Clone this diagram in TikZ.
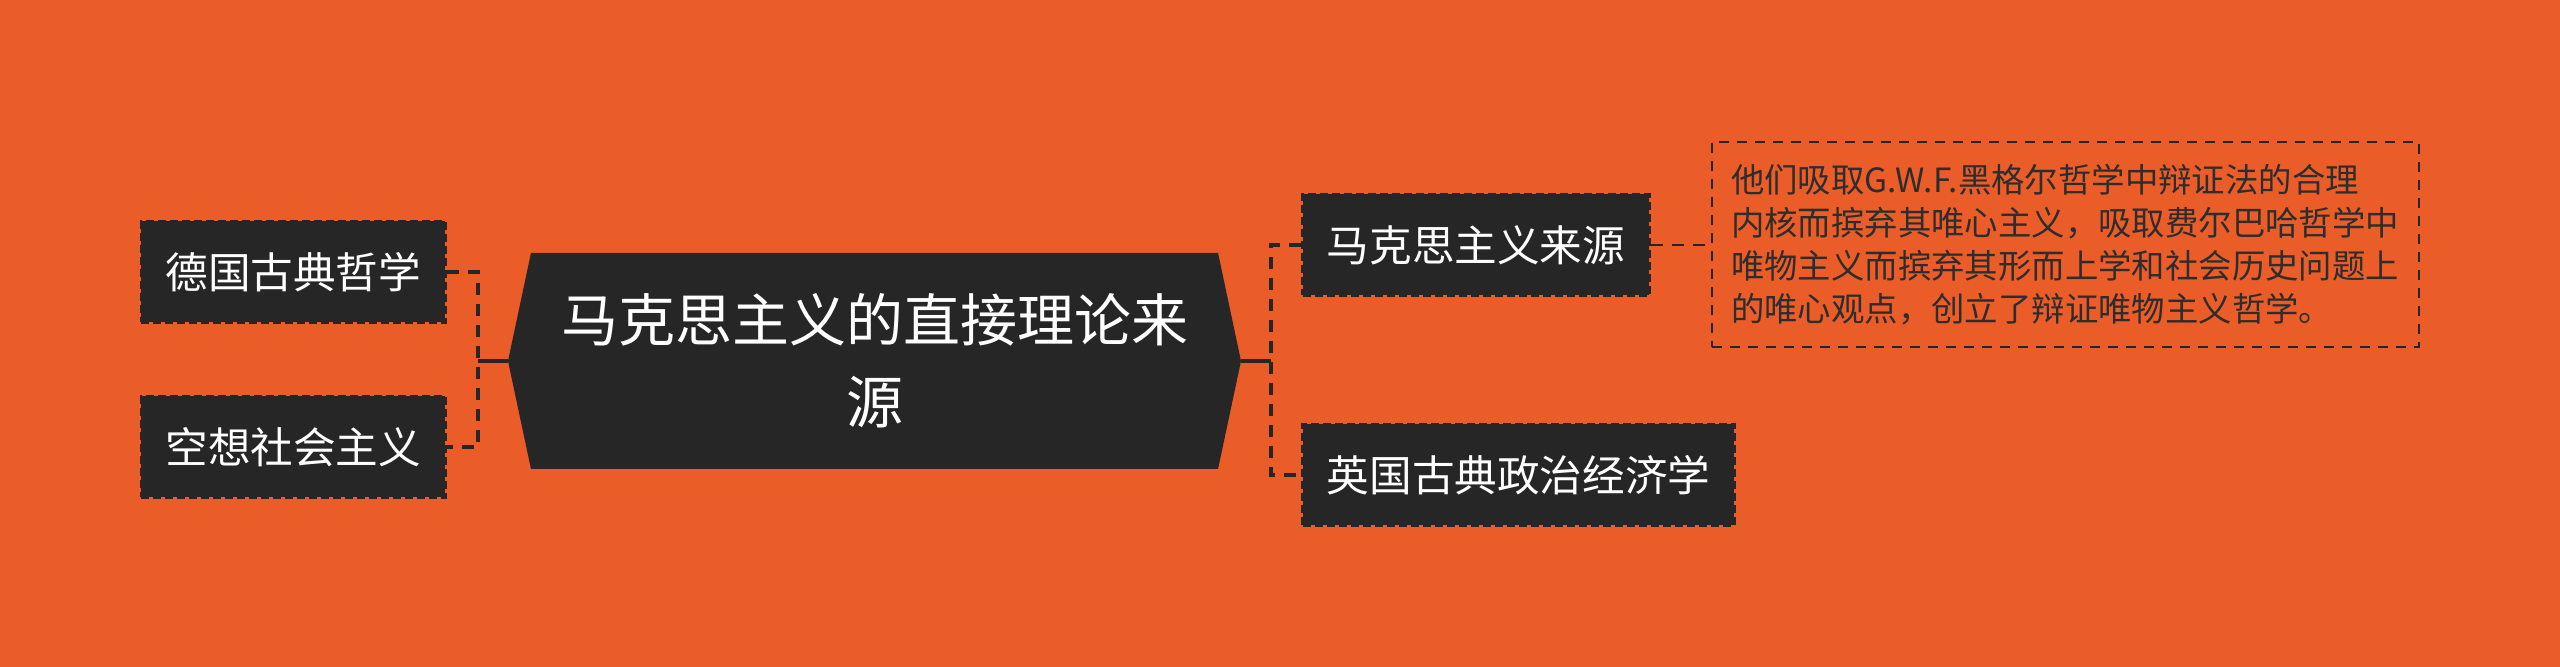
\documentclass[tikz,border=0pt]{standalone}
\usepackage{fontspec}
\setmainfont{Noto Sans CJK SC}
\usetikzlibrary{positioning, shapes.symbols}
\definecolor{bgorange}{RGB}{234,93,40}
\definecolor{boxdark}{RGB}{38,38,38}
\definecolor{notegray}{RGB}{45,45,45}

\begin{document}
\begin{tikzpicture}[
		x=0.5pt, y=-0.5pt,
		rootbox/.style={signal, signal to=east and west, signal pointer angle=156, fill=boxdark, text=white, minimum width=366.5pt, minimum height=108pt, align=center, font=\fontsize{28.5pt}{41pt}\selectfont},
		leafbox/.style={rectangle, fill=boxdark, draw=boxdark, line width=1.5pt, dash pattern=on 4pt off 2pt, text=white, inner xsep=12pt, minimum height=50.5pt, font=\fontsize{21.3pt}{26pt}\selectfont},
		notebox/.style={rectangle, draw=boxdark, line width=1pt, dash pattern=on 5pt off 4pt, text=notegray, align=left, inner xsep=8.5pt, minimum width=353.5pt, minimum height=102.5pt, font=\fontsize{16.7pt}{21.5pt}\selectfont},
		link/.style={draw=boxdark, line width=2pt},
		dlink/.style={link, dash pattern=on 6pt off 4.5pt}
		]
		\fill[bgorange] (0,0) rectangle (2560,667);
		\useasboundingbox (0,0) rectangle (2560,667);
		\node[rootbox] (root) at (874.5,361) {马克思主义的直接理论来\\源};
		\node[leafbox] (l1) [above left=18.5pt and 30.5pt of root.west] {德国古典哲学};
		\node[leafbox] (l2) [below left=17pt and 30.5pt of root.west] {空想社会主义};
		\node[leafbox] (r1) [above right=32pt and 30pt of root.east] {马克思主义来源};
		\node[leafbox] (r2) [below right=31pt and 30pt of root.east] {英国古典政治经济学};
		\node[notebox] (note) [right=30pt of r1] {他们吸取G.W.F.黑格尔哲学中辩证法的合理\\内核而摈弃其唯心主义，吸取费尔巴哈哲学中\\唯物主义而摈弃其形而上学和社会历史问题上\\的唯心观点，创立了辩证唯物主义哲学。};
		\coordinate (jl) at ([xshift=-15pt]root.west);
		\coordinate (jr) at ([xshift=15pt]root.east);
		\draw[link] (root.west) -- (jl);
		\draw[link] (root.east) -- (jr);
		\draw[dlink] (l1.east) -| (jl) |- (l2.east);
		\draw[dlink] (r1.west) -| (jr) |- (r2.west);
		\draw[dlink, line width=1pt] (r1.east) -- (note.west);
	\end{tikzpicture}
\end{document}
